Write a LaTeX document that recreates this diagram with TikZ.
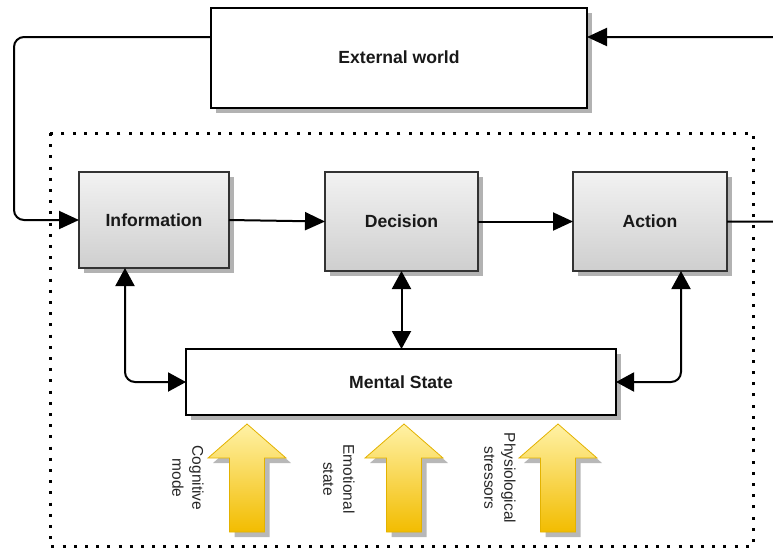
\documentclass[tikz,border=0pt]{standalone}
\usepackage{fontspec}
\setmainfont{Liberation Sans}
\usetikzlibrary{arrows.meta,shadows}

\definecolor{ytop}{HTML}{FFF2A6}
\definecolor{ybot}{HTML}{F2BC00}
\definecolor{yedge}{HTML}{E3B200}

\begin{document}
\begin{tikzpicture}[x=1pt,y=-1pt,
  boxshadow/.style={drop shadow={shadow xshift=5pt,shadow yshift=-5pt,fill=black!30,opacity=1}},
  basebox/.style={line width=2pt,inner sep=0pt,outer sep=0pt,boxshadow,text=black!90,
    font=\fontsize{17.6}{20}\bfseries\selectfont},
  graybox/.style={basebox,draw=black!80,top color=black!5,bottom color=black!19},
  whitebox/.style={basebox,draw=black,fill=white},
  conn/.style={line width=2pt,-{Triangle[length=20pt,width=18pt]}},
  biconn/.style={line width=2pt,{Triangle[length=18pt,width=19pt]}-{Triangle[length=18pt,width=19pt]}},
  sidelabel/.style={rotate=-90,align=center,text=black!85,font=\fontsize{15.5}{20}\selectfont},
  blockarrow/.style={draw=yedge,line width=0.8pt,top color=ytop,bottom color=ybot},
  blockshadow/.style={fill=black!28}
]
\useasboundingbox (0,0) rectangle (773,550);

% system boundary
\draw[line width=3pt,dash pattern=on 3pt off 8.2pt] (50,133) rectangle (753,546);

% boxes
\node[whitebox,minimum width=376pt,minimum height=100pt] (ext) at (399,57.5) {External world};
\node[graybox,minimum width=150pt,minimum height=96pt] (info) at (154,220) {Information};
\node[graybox,minimum width=153pt,minimum height=99pt] (dec) at (401.5,221.5) {Decision};
\node[graybox,minimum width=154pt,minimum height=99pt] (act) at (650,221.5) {Action};
\node[whitebox,minimum width=430pt,minimum height=66pt] (ment) at (401,382) {Mental State};

% feedback loop through the external world
\coordinate (extL) at ([yshift=20.5pt]ext.west);
\coordinate (extR) at ([yshift=20.5pt]ext.east);
\draw[conn,rounded corners=10pt] (extL) -| ([xshift=-65pt]info.west) -- (info.west);
\draw[conn,rounded corners=10pt] (act.east) -- ++(70,0) |- (extR);

% main chain
\draw[conn] (info.east) -- (dec.west);
\draw[conn] (dec.east) -- (act.west);

% links with the mental state
\draw[biconn,rounded corners=10pt] ([xshift=-29pt]info.south) |- (ment.west);
\draw[biconn] (dec.south) -- (dec.south |- ment.north);
\draw[biconn,rounded corners=10pt] ([xshift=31pt]act.south) |- (ment.east);

% influences on the mental state
\foreach \c in {247,404,558} {
  \fill[blockshadow,shift={(5,5)}] (\c,424) -- (\c+39,458) -- (\c+17.5,458) -- (\c+17.5,532)
    -- (\c-17.5,532) -- (\c-17.5,458) -- (\c-39,458) -- cycle;
  \path[blockarrow] (\c,424) -- (\c+39,458) -- (\c+17.5,458) -- (\c+17.5,532)
    -- (\c-17.5,532) -- (\c-17.5,458) -- (\c-39,458) -- cycle;
}
\node[sidelabel] (cog) at (188,478) {Cognitive\\mode};
\node[sidelabel] (emo) at (339,479) {Emotional\\state};
\node[sidelabel] (phy) at (500,478) {Physiological\\stressors};
\end{tikzpicture}
\end{document}
